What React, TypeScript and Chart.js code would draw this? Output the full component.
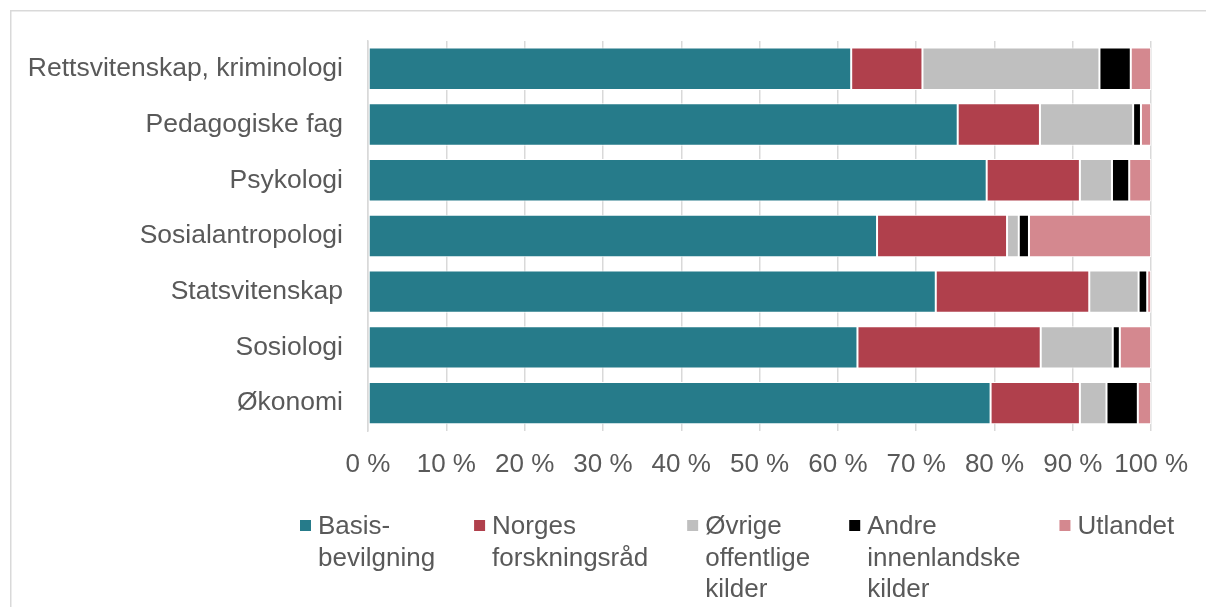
import React, { useEffect, useRef } from "react";
import { Chart, registerables } from "chart.js";

Chart.register(...registerables);

const categories = [
  "Rettsvitenskap, kriminologi",
  "Pedagogiske fag",
  "Psykologi",
  "Sosialantropologi",
  "Statsvitenskap",
  "Sosiologi",
  "Økonomi",
];

const basisbevilgning = [61.7, 75.3, 79.0, 65.0, 72.5, 62.5, 79.5];
const forskningsraad = [9.1, 10.5, 11.9, 16.6, 19.6, 23.4, 11.4];
const ovrigeOffentlige = [22.6, 11.9, 4.1, 1.5, 6.3, 9.2, 3.4];
const andreInnenlandske = [4.0, 1.0, 2.2, 1.3, 1.1, 0.9, 4.0];
const utlandet = [2.6, 1.3, 2.8, 15.6, 0.5, 4.0, 1.7];

const seriesLabels: string[][] = [
  ["Basis-", "bevilgning"],
  ["Norges", "forskningsråd"],
  ["Øvrige", "offentlige", "kilder"],
  ["Andre", "innenlandske", "kilder"],
  ["Utlandet"],
];
const seriesColors = ["#267B8A", "#B0404C", "#BFBFBF", "#000000", "#D4888F"];
const seriesValues = [basisbevilgning, forskningsraad, ovrigeOffentlige, andreInnenlandske, utlandet];

const xTickValues = [0, 10, 20, 30, 40, 50, 60, 70, 80, 90, 100];

const FONT = '"Liberation Sans", Arial, sans-serif';
const TEXT_COLOR = "#595959";
const GRID_COLOR = "#D9D9D9";

const framePlugin = {
  id: "frame",
  beforeDraw(chart: any) {
    const ctx = chart.ctx;
    ctx.save();
    ctx.strokeStyle = GRID_COLOR;
    ctx.lineWidth = 1.5;
    ctx.strokeRect(10.75, 10.75, 1400, 800);
    ctx.restore();
  },
};

const legendPlugin = {
  id: "customLegend",
  afterDraw(chart: any) {
    const ctx = chart.ctx;
    ctx.save();
    ctx.font = `26px ${FONT}`;
    ctx.textAlign = "left";
    ctx.textBaseline = "alphabetic";
    let x = 300;
    const boxTop = 520;
    const boxSize = 11;
    const firstBaseline = 534;
    const lineStep = 31.5;
    const textOffset = 18;
    const gap = 39;
    chart.data.datasets.forEach((ds: any, i: number) => {
      const lines: string[] = seriesLabels[i];
      ctx.fillStyle = ds.backgroundColor;
      ctx.fillRect(x, boxTop, boxSize, boxSize);
      ctx.fillStyle = TEXT_COLOR;
      let maxW = 0;
      lines.forEach((ln, k) => {
        ctx.fillText(ln, x + textOffset, firstBaseline + k * lineStep);
        maxW = Math.max(maxW, ctx.measureText(ln).width);
      });
      x = x + textOffset + maxW + gap;
    });
    ctx.restore();
  },
};

export default function App() {
  const canvasRef = useRef<HTMLCanvasElement | null>(null);

  useEffect(() => {
    if (!canvasRef.current) return;
    const chart = new Chart(canvasRef.current, {
      type: "bar",
      data: {
        labels: categories,
        datasets: seriesValues.map((vals, i) => ({
          label: seriesLabels[i].join(" "),
          data: vals,
          backgroundColor: seriesColors[i],
          borderColor: "#FFFFFF",
          borderWidth: 1,
          borderSkipped: false,
          barPercentage: 0.76,
          categoryPercentage: 1,
        })),
      },
      options: {
        indexAxis: "y",
        animation: false,
        responsive: false,
        maintainAspectRatio: false,
        layout: { padding: { left: 10, right: 54, top: 40, bottom: 126 } },
        plugins: {
          legend: { display: false },
          tooltip: { enabled: false },
          title: { display: false },
        },
        scales: {
          x: {
            stacked: true,
            min: 0,
            max: 100,
            afterBuildTicks(scale: any) {
              scale.ticks = xTickValues.map((v) => ({ value: v }));
            },
            afterFit(scale: any) {
              scale.height = 50;
            },
            ticks: {
              color: TEXT_COLOR,
              font: { family: FONT, size: 26 },
              padding: 18,
              maxRotation: 0,
              autoSkip: false,
              callback: (v: any) => `${v} %`,
            },
            grid: {
              display: true,
              color: GRID_COLOR,
              lineWidth: 1.5,
              drawTicks: false,
            },
            border: { display: false },
          },
          y: {
            stacked: true,
            afterFit(scale: any) {
              scale.width = 358;
            },
            ticks: {
              color: TEXT_COLOR,
              font: { family: FONT, size: 26.5 },
              padding: 25,
              autoSkip: false,
            },
            grid: { display: false, drawTicks: false },
            border: { display: true, color: GRID_COLOR, width: 1.5 },
          },
        },
      },
      plugins: [framePlugin, legendPlugin],
    } as any);
    return () => chart.destroy();
  }, []);

  return (
    <div style={{ position: "fixed", left: 0, top: 0, width: 1206, height: 607, background: "#FFFFFF" }}>
      <canvas ref={canvasRef} width={1206} height={607} style={{ display: "block" }} />
    </div>
  );
}
